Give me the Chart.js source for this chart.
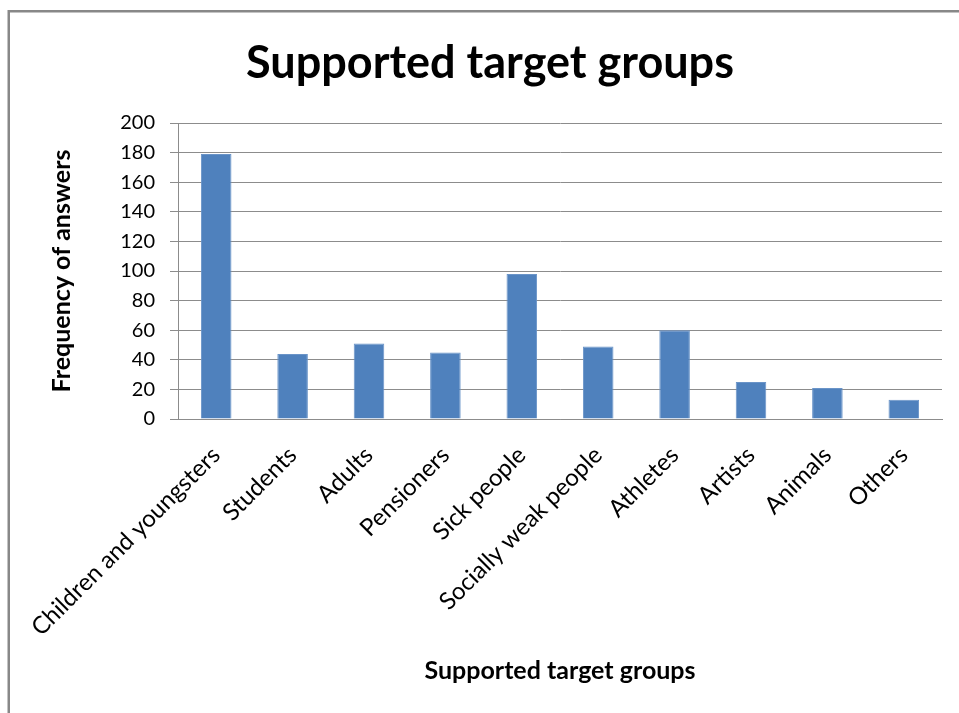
<!DOCTYPE html>
<html>
<head>
<meta charset="utf-8">
<script src="https://cdn.jsdelivr.net/npm/chart.js@4/dist/chart.umd.min.js"></script>
<style>
  html, body { margin: 0; padding: 0; background: #fff; }
  #wrap { width: 959px; height: 713px; }
</style>
</head>
<body>
<div id="wrap"><canvas id="c" width="959" height="713"></canvas></div>
<script>
// Survey answers per supported target group
const categories = [
  "Children and youngsters", "Students", "Adults", "Pensioners", "Sick people",
  "Socially weak people", "Athletes", "Artists", "Animals", "Others"
];
const answers = [179, 44, 51, 45, 98, 49, 60, 25, 21, 13];
const yTicks = [0, 20, 40, 60, 80, 100, 120, 140, 160, 180, 200];

const FONT = "Lato, 'Open Sans', sans-serif";
const GRID = "#8c8c8c";

// Outer frame around the whole chart
const framePlugin = {
  id: "frame",
  beforeDraw(chart) {
    const ctx = chart.ctx;
    ctx.save();
    ctx.fillStyle = "#fff";
    ctx.fillRect(0, 0, chart.width, chart.height);
    ctx.strokeStyle = "#888888";
    ctx.lineWidth = 2.5;
    ctx.beginPath();
    ctx.moveTo(8.75, chart.height + 2);
    ctx.lineTo(8.75, 11.25);
    ctx.lineTo(chart.width + 2, 11.25);
    ctx.stroke();
    ctx.restore();
  }
};

new Chart(document.getElementById("c"), {
  type: "bar",
  data: {
    labels: categories,
    datasets: [{
      data: answers,
      backgroundColor: "#4f81bd",
      borderColor: "#6a94c8",
      borderWidth: 1,
      categoryPercentage: 1.0,
      barPercentage: 0.4
    }]
  },
  options: {
    responsive: false,
    animation: false,
    layout: { padding: { left: 38, right: 17, top: 0, bottom: 0 } },
    plugins: {
      legend: { display: false },
      tooltip: { enabled: false },
      title: {
        display: true,
        text: "Supported target groups",
        color: "#000",
        font: { family: FONT, size: 45, weight: "bold" },
        padding: { top: 36, bottom: 33 }
      }
    },
    scales: {
      x: {
        grid: { display: false },
        border: { display: true, color: GRID, width: 1 },
        ticks: {
          color: "#000",
          font: { family: FONT, size: 24 },
          minRotation: 45,
          maxRotation: 45,
          padding: 14,
          autoSkip: false
        },
        title: {
          display: true,
          text: "Supported target groups",
          color: "#000",
          font: { family: FONT, size: 25, weight: "bold" },
          padding: { top: 4, bottom: 27 }
        },
        afterFit(scale) { scale.height = 294; }
      },
      y: {
        min: 0,
        max: 200,
        afterBuildTicks(scale) { scale.ticks = yTicks.map(v => ({ value: v })); },
        grid: { color: GRID, lineWidth: 1, tickLength: 8, drawTicks: true },
        border: { display: true, color: GRID, width: 1 },
        ticks: {
          color: "#000",
          font: { family: FONT, size: 20 },
          padding: 15
        },
        title: {
          display: true,
          text: "Frequency of answers",
          color: "#000",
          font: { family: FONT, size: 25, weight: "bold" },
          padding: { top: 9, bottom: 0 }
        },
        afterFit(scale) { scale.width = 140; }
      }
    }
  },
  plugins: [framePlugin]
});
</script>
</body>
</html>
